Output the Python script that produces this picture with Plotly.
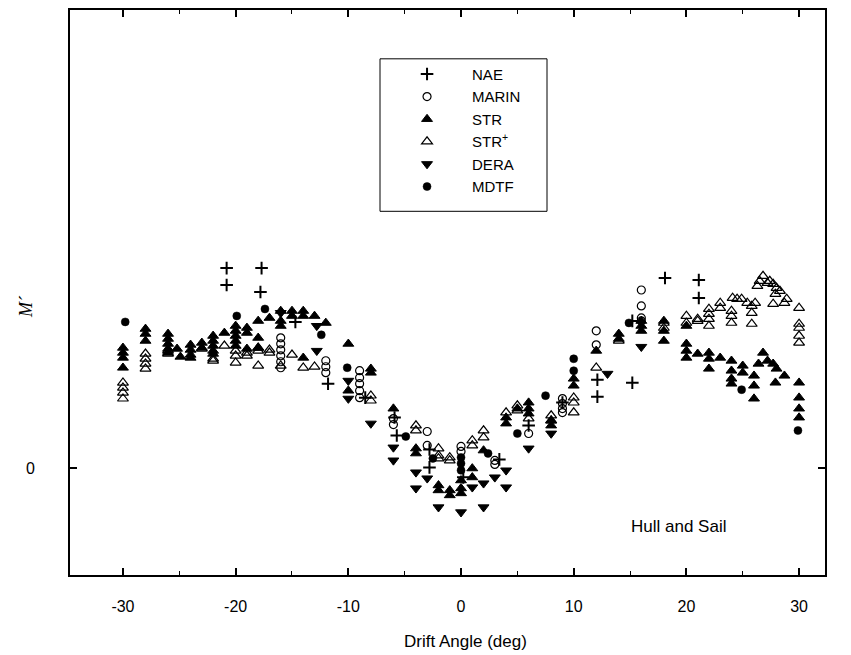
import plotly.graph_objects as go

# ---------------- data (drift angle in deg, M' in arbitrary units) ----------------
nae_x = [-20.8, -20.8, -17.7, -17.8, -14.7, -11.8, -8.5, -5.9, -5.7, -2.8, -2.8, 0.2,
         3.4, 6.0, 9.0, 12.1, 12.1, 15.2, 15.2, 18.1, 21.1, 21.1]
nae_y = [2.01, 1.84, 2.01, 1.77, 1.47, 0.85, 0.71, 0.51, 0.33, 0.19, 0.01, -0.09,
         0.09, 0.43, 0.66, 0.89, 0.72, 1.48, 0.86, 1.91, 1.89, 1.71]

marin_x = [-16, -16, -16, -16, -16, -16, -12, -12, -12, -9, -9, -9, -9, -9, -6, -6,
           -3, -3, 0, 0, 3, 3, 6, 9, 9, 9, 9, 12, 12, 16, 16, 16, 16]
marin_y = [1.31, 1.25, 1.19, 1.13, 1.07, 1.01, 1.08, 1.02, 0.96, 0.98, 0.91, 0.85, 0.78, 0.71,
           0.50, 0.44, 0.37, 0.23, 0.22, 0.17, 0.08, 0.04, 0.35, 0.70, 0.65, 0.60, 0.56,
           1.38, 1.24, 1.79, 1.63, 1.51, 1.48]

str_x = [-30, -30, -30, -30, -28, -28, -28, -26, -26, -26, -26, -26, -25.2, -24.9,
         -24, -24, -24, -24, -23, -23, -22, -22, -22, -22, -22, -21,
         -20, -20, -20, -20, -20, -19, -19, -19, -18, -18, -18, -17,
         -16, -16, -16, -15, -15, -14, -14, -14, -13, -12, -10, -10, -8, -8, -6,
         -4, -4, -2, -2, -1, -1, 0, 0, 0, 1, 1, 2, 4, 4, 5, 6, 6, 6, 8, 8,
         10, 10, 12, 14, 14, 16, 16, 16, 18, 18, 18, 20, 20, 20, 20, 21,
         22, 22, 22, 23, 24, 24, 24, 24, 25, 25, 26, 26, 26, 26.4, 26.8, 27.2,
         27.7, 28.0, 27.9, 28.7, 30, 30, 30, 30]
str_y = [1.21, 1.16, 1.11, 1.01, 1.40, 1.35, 1.28, 1.35, 1.30, 1.25, 1.20, 1.16, 1.20, 1.12,
         1.24, 1.19, 1.14, 1.11, 1.26, 1.21, 1.33, 1.28, 1.23, 1.18, 1.15, 1.36,
         1.43, 1.38, 1.33, 1.28, 1.23, 1.41, 1.36, 1.20, 1.48, 1.31, 1.21, 1.51,
         1.58, 1.48, 1.43, 1.58, 1.53, 1.58, 1.53, 1.11, 1.53, 1.46, 1.25, 0.78, 1.00, 0.96, 0.60,
         0.20, 0.15, -0.17, -0.22, -0.22, -0.27, -0.20, -0.25, -0.12, 0.00, -0.09, 0.18,
         0.51, 0.45, 0.60, 0.66, 0.60, 0.55, 0.48, 0.43,
         0.90, 0.83, 1.18, 1.35, 1.30, 1.48, 1.43, 1.38, 1.48, 1.38, 1.28, 1.43, 1.25, 1.18, 1.11, 1.15,
         1.16, 1.10, 1.00, 1.11, 1.08, 0.98, 0.90, 0.85, 1.03, 0.96, 0.93, 0.83, 0.70, 1.05, 1.16, 1.08,
         1.05, 1.00, 0.86, 0.93, 0.86, 0.71, 0.60, 0.51]

strp_x = [-30, -30, -30, -30, -28, -28, -28, -28, -26, -26, -23, -22, -22, -21,
          -20, -20, -20, -19, -19, -18, -18, -18, -17, -17, -16, -15, -14, -13,
          -8, -8, -4, -4, -2, -2, -2, -1, -1, 1, 1, 2, 2, 4, 5, 5, 6, 8, 8,
          10, 10, 10, 12, 14, 18, 18, 20, 20, 21, 21, 22, 22, 22, 22, 23, 23,
          24, 24, 24, 24.1, 24.5, 24.9, 25.4, 25.8, 26.1, 25.8, 25.8,
          26.3, 26.5, 26.8, 27.2, 27.4, 27.7, 28.0, 28.3, 27.9, 27.7, 28.9, 28.7,
          30, 30, 30, 30, 30]
strp_y = [0.86, 0.81, 0.76, 0.70, 1.15, 1.10, 1.05, 1.00, 1.18, 1.15, 1.20, 1.10, 1.08, 1.23,
          1.18, 1.13, 1.06, 1.16, 1.13, 1.21, 1.18, 1.03, 1.19, 1.16, 1.03, 1.14, 1.01, 1.02,
          0.73, 0.68, 0.43, 0.38, 0.20, 0.13, 0.10, 0.11, 0.08, 0.28, 0.23, 0.38, 0.31,
          0.56, 0.63, 0.58, 0.50, 0.53, 0.48, 0.71, 0.66, 0.56, 1.01, 1.28, 1.46, 1.41,
          1.53, 1.46, 1.50, 1.48, 1.60, 1.55, 1.50, 1.43, 1.66, 1.61,
          1.58, 1.53, 1.46, 1.71, 1.70, 1.70, 1.66, 1.63, 1.66, 1.56, 1.45,
          1.83, 1.88, 1.93, 1.86, 1.88, 1.85, 1.81, 1.78, 1.75, 1.65, 1.70, 1.66,
          1.61, 1.45, 1.41, 1.33, 1.26]

dera_x = [-16, -12.8, -12.8, -10, -10, -8, -6, -6, -4, -4, -3, -2, 0, 1, 2, 2, 3, 4, 4,
          6, 8, 13, 16]
dera_y = [1.56, 1.43, 1.18, 0.88, 0.70, 0.45, 0.21, 0.08, -0.04, -0.20, -0.10, -0.39, -0.44,
          -0.19, -0.15, -0.39, -0.09, -0.02, -0.19, 0.20, 0.35, 0.95, 1.22]

mdtf_x = [-29.8, -19.9, -17.4, -12.4, -10.1, -4.9, -2.5, 0, 0, 0, 2.4, 5, 7.5, 10, 10,
          14.9, 24.9, 29.9]
mdtf_y = [1.47, 1.53, 1.60, 1.34, 1.01, 0.32, 0.10, 0.11, 0.05, -0.02, 0.15, 0.35, 0.73,
          1.10, 0.98, 1.46, 0.79, 0.38]

x_ticks = [-30, -20, -10, 0, 10, 20, 30]
x_tick_text = ["-30", "-20", "-10", "0", "10", "20", "30"]

FONT = "Arial, Liberation Sans, sans-serif"

fig = go.Figure()

def add(name, xs, ys, symbol, size, filled=True, lw=1):
    col = "black"
    fig.add_trace(go.Scatter(
        x=xs, y=ys, mode="markers", name=name, legendgroup=name,
        marker=dict(symbol=symbol, size=size, color=col if filled else "white",
                    line=dict(color=col, width=lw)),
    ))

add("NAE", nae_x, nae_y, "cross-thin", 9, lw=2)
add("MARIN", marin_x, marin_y, "circle-open", 8, lw=1.2)
add("STR", str_x, str_y, "triangle-up", 9.5, lw=1)
add("STR<sup>+</sup>", strp_x, strp_y, "triangle-up-open", 9.5, lw=1.2)
add("DERA", dera_x, dera_y, "triangle-down", 9.5, lw=1)
add("MDTF", mdtf_x, mdtf_y, "circle", 8, lw=0.5)

fig.update_layout(
    width=851, height=655,
    margin=dict(l=70, r=26, t=8, b=80),
    paper_bgcolor="white", plot_bgcolor="white",
    font=dict(family=FONT, size=16, color="black"),
    showlegend=True,
    legend=dict(x=0.4133, y=0.9154, xanchor="left", yanchor="top",
                bgcolor="rgba(0,0,0,0)", borderwidth=0,
                font=dict(family=FONT, size=15, color="black"),
                itemwidth=80, tracegroupgap=0),
    shapes=[dict(type="rect", xref="paper", yref="paper",
                 x0=0.4106, x1=0.6318, y0=0.6437, y1=0.9136,
                 line=dict(color="black", width=1), fillcolor="white", layer="above")],
    xaxis=dict(range=[-34.7, 32.3], tickvals=x_ticks, ticktext=x_tick_text,
               ticks="inside", ticklen=7,
               tickwidth=1.5, tickcolor="black", showline=True, linecolor="black",
               linewidth=2, mirror="allticks", showgrid=False, zeroline=False,
               ticklabelstandoff=16,
               tickfont=dict(family=FONT, size=16),
               minor=dict(dtick=5, tick0=0, ticks="inside", ticklen=4,
                          tickcolor="black", tickwidth=1, showgrid=False)),
    yaxis=dict(range=[-1.07, 4.60], tickvals=[0], ticktext=["0"], ticks="inside",
               ticklen=7, tickwidth=1.5, tickcolor="black", showline=True,
               linecolor="black", linewidth=2, mirror="allticks", showgrid=False,
               zeroline=False, ticklabelstandoff=30,
               tickfont=dict(family=FONT, size=16)),
    annotations=[
        dict(text="Drift Angle (deg)", xref="paper", yref="paper", x=0.5232, y=-0.118,
             xanchor="center", yanchor="middle", showarrow=False,
             font=dict(family=FONT, size=17)),
        dict(text="<i>M´</i>", xref="paper", yref="paper", x=-0.0583, y=0.476,
             xanchor="center", yanchor="middle", showarrow=False, textangle=-90,
             font=dict(family="Times New Roman, Liberation Serif, serif", size=18)),
        dict(text="Hull and Sail", x=19.3, y=-0.58, xanchor="center", yanchor="middle",
             showarrow=False, font=dict(family=FONT, size=17)),
    ],
)

fig.write_html("out.html")
